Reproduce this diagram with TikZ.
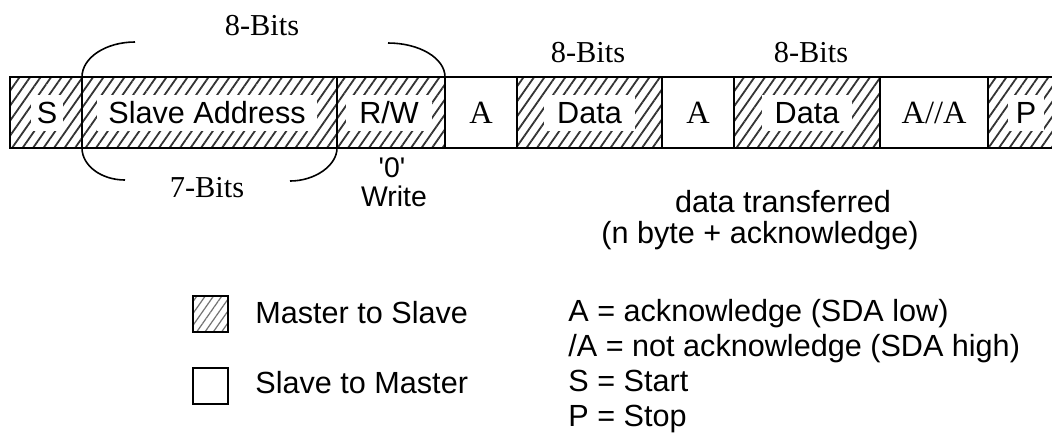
\documentclass[tikz,border=0pt]{standalone}
\usepackage{fontspec}
\setmainfont{Liberation Serif}
\setsansfont{Liberation Sans}
\usetikzlibrary{patterns.meta}
\tikzset{
  mbox/.style={draw, line width=1pt, inner sep=0pt, outer sep=0pt, minimum height=35.5pt,
    pattern={Lines[angle=55,distance=4.3pt,line width=0.9pt]}, pattern color=black!80},
  sbox/.style={draw, line width=1pt, inner sep=0pt, outer sep=0pt, minimum height=35.5pt, fill=white},
  lbl/.style={fill=white, font=\sffamily\fontsize{15.3}{18}\selectfont, inner xsep=5pt,
    inner ysep=3.5pt, text height=11pt, text depth=0pt},
  ser/.style={font=\rmfamily\fontsize{16.2}{19}\selectfont, inner sep=0pt},
  bits/.style={font=\rmfamily\fontsize{15.2}{18}\selectfont, anchor=base, inner sep=0pt},
  txt/.style={font=\sffamily\fontsize{15.3}{18}\selectfont, anchor=base, inner sep=0pt},
  small/.style={font=\sffamily\fontsize{14.2}{16}\selectfont, anchor=base, inner sep=0pt},
  legtxt/.style={txt, anchor=base west},
  brace/.style={line width=0.8pt},
}
\begin{document}
\begin{tikzpicture}[x=0.5pt,y=-0.5pt]
\clip (0,0) rectangle (1052,435);
\fill[white] (0,0) rectangle (1052,435);
% frame boxes
\node[mbox, minimum width=36pt]   (s)  at (46,112.5)   {};
\node[mbox, minimum width=127.5pt](sa) at (209.5,112.5){};
\node[mbox, minimum width=54pt]   (rw) at (391,112.5)  {};
\node[sbox, minimum width=36pt]   (a1) at (481,112.5)  {};
\node[mbox, minimum width=72.5pt] (d1) at (589.5,112.5){};
\node[sbox, minimum width=36pt]   (a2) at (698,112.5)  {};
\node[mbox, minimum width=73pt]   (d2) at (807,112.5)  {};
\node[sbox, minimum width=54pt]   (an) at (934,112.5)  {};
\node[mbox, minimum width=38pt]   (p)  at (1026,112.5) {};
% box labels
\node[lbl, inner xsep=2.75pt] (ts)  at (47,112.5)  {S};
\node[lbl, inner xsep=5.5pt]  (tsa) at (207,112.5) {Slave Address};
\node[lbl, inner xsep=6.5pt]  (trw) at (389,112.5) {R/W};
\node[ser] (ta1) at (a1) {A};
\node[lbl, inner xsep=6.5pt]  (td1) at (589.5,112.5) {Data};
\node[ser] (ta2) at (a2) {A};
\node[lbl, inner xsep=6.5pt]  (td2) at (807,112.5) {Data};
\node[ser] (tan) at (an) {A//A};
\node[lbl, inner xsep=3.75pt] (tp)  at (1026,112.5) {P};
% bit counts
\node[bits] (b8a) at (262,35) {8-Bits};
\node[bits] (b8b) at (588,62) {8-Bits};
\node[bits] (b8c) at (811,62) {8-Bits};
\node[bits] (b7)  at (207,197) {7-Bits};
% braces
\coordinate (ul) at (135,42);
\coordinate (ur) at (388,43);
\coordinate (bl) at (125,180);
\coordinate (br) at (290,181);
\draw[brace] (sa.north west) .. controls +(0,-19.3) and +(-29.3,0) .. (ul);
\draw[brace] (ur) .. controls +(31.5,0) and +(0,-18.8) .. (rw.north east);
\draw[brace] (sa.south west) .. controls +(0,17.6) and +(-23.7,0) .. (bl);
\draw[brace] (br) .. controls +(24.8,0) and +(0,17.6) .. (sa.south east);
% notes under frame
\node[small] (zero)  at (392,177) {\textquotesingle0\textquotesingle};
\node[small] (write) at (394,206) {Write};
\node[txt] (dt1) at (783,212) {data transferred};
\node[txt] (dt2) at (760,243) {(n byte + acknowledge)};
% legend
\node[draw, line width=0.6pt, inner sep=0pt, minimum width=17.5pt, minimum height=18pt,
  pattern={Lines[angle=55,distance=3.4pt,line width=0.6pt]}, pattern color=black!55]
  (lm) at (210.5,314) {};
\node[draw, line width=0.6pt, inner sep=0pt, minimum width=17.5pt, minimum height=18pt, fill=white]
  (ls) at (210.5,386) {};
\node[legtxt] (lmt) at (255,323) {Master to Slave};
\node[legtxt] (lst) at (255,393) {Slave to Master};
\node[legtxt] (k1) at (568,321) {A = acknowledge (SDA low)};
\node[legtxt] (k2) at (568,356) {/A = not acknowledge (SDA high)};
\node[legtxt] (k3) at (568,391) {S = Start};
\node[legtxt] (k4) at (568,426) {P = Stop};
\end{tikzpicture}
\end{document}
